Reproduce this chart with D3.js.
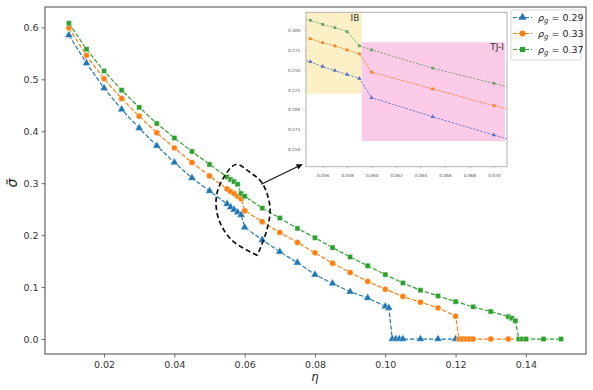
<!DOCTYPE html>
<html>
<head>
<meta charset="utf-8">
<script src="https://cdn.jsdelivr.net/npm/d3@7"></script>
<style>
  body { margin: 0; background: #fff; }
  text { font-family: "DejaVu Sans", sans-serif; }
</style>
</head>
<body>
<svg id="chart" width="593" height="390"></svg>
<script>
// data
const eta029 = [0.01, 0.015, 0.02, 0.025, 0.03, 0.035, 0.04, 0.045, 0.05,
    0.055, 0.056, 0.057, 0.058, 0.059, 0.06, 0.065, 0.07, 0.075, 0.08, 0.085, 0.09, 0.095, 0.1,
    0.101, 0.102, 0.103, 0.104, 0.105, 0.11, 0.115, 0.12];
const sig029 = [0.585, 0.531, 0.483, 0.442, 0.406, 0.372, 0.340, 0.310, 0.285,
    0.260, 0.254, 0.249, 0.244, 0.239, 0.215, 0.191, 0.168, 0.147, 0.124, 0.107, 0.091, 0.079, 0.063,
    0.060, 0, 0, 0, 0, 0, 0, 0];

const eta033 = [0.01, 0.015, 0.02, 0.025, 0.03, 0.035, 0.04, 0.045, 0.05,
    0.055, 0.056, 0.057, 0.058, 0.059, 0.06, 0.065, 0.07, 0.075, 0.08, 0.085, 0.09, 0.095, 0.1,
    0.105, 0.11, 0.115, 0.12, 0.121, 0.122, 0.123, 0.124, 0.125, 0.13, 0.135, 0.14];
const sig033 = [0.599, 0.546, 0.501, 0.463, 0.429, 0.397, 0.368, 0.340, 0.314,
    0.289, 0.284, 0.280, 0.275, 0.270, 0.247, 0.226, 0.205, 0.186, 0.166, 0.146, 0.128, 0.111, 0.096,
    0.082, 0.071, 0.060, 0.044, 0, 0, 0, 0, 0, 0, 0, 0];

const eta037 = [0.01, 0.015, 0.02, 0.025, 0.03, 0.035, 0.04, 0.045, 0.05,
    0.055, 0.056, 0.057, 0.058, 0.059, 0.06, 0.065, 0.07, 0.075, 0.08, 0.085, 0.09, 0.095, 0.1,
    0.105, 0.11, 0.115, 0.12, 0.125, 0.13, 0.135, 0.136, 0.137, 0.138, 0.139, 0.14, 0.145, 0.15];
const sig037 = [0.608, 0.558, 0.516, 0.479, 0.446, 0.415, 0.387, 0.361, 0.336,
    0.312, 0.307, 0.303, 0.298, 0.280, 0.275, 0.252, 0.233, 0.213, 0.195, 0.176, 0.158, 0.141, 0.124,
    0.108, 0.094, 0.083, 0.072, 0.062, 0.053, 0.043, 0.040, 0.035, 0, 0, 0, 0, 0];

const rhoValues = ['0.29', '0.33', '0.37'];
const colors = ['#1f77b4', '#ff7f0e', '#2ca02c'];
const insetColors = ['#5a6fc4', '#ff7f2a', '#6a9e6a'];
const symbols = [d3.symbolTriangle, d3.symbolCircle, d3.symbolSquare];

const xTicks = [0.02, 0.04, 0.06, 0.08, 0.10, 0.12, 0.14];
const yTicks = [0.0, 0.1, 0.2, 0.3, 0.4, 0.5, 0.6];
const insetXTicks = [0.056, 0.058, 0.060, 0.062, 0.064, 0.066, 0.068, 0.070];
const insetYTicks = [0.150, 0.175, 0.200, 0.225, 0.250, 0.275, 0.300];

// shaded regimes in the inset: [eta0, eta1, sig0, sig1]
const regionIB = [0.0540, 0.0592, 0.220, 0.330];
const regionTJ = [0.0592, 0.0709, 0.1605, 0.2845];

// dashed outline around the transition points (eta, sigma)
const loopPts = [[0.0636, 0.161], [0.0564, 0.190], [0.0527, 0.229], [0.0519, 0.271],
    [0.0536, 0.306], [0.0575, 0.336], [0.0615, 0.321], [0.0650, 0.300],
    [0.0672, 0.254], [0.0663, 0.210], [0.0636, 0.161]];
const arrowFrom = [0.0647, 0.298];
const arrowTo = [0.0763, 0.336];

const series = [
    { eta: eta029, sig: sig029 },
    { eta: eta033, sig: sig033 },
    { eta: eta037, sig: sig037 }
];

const svg = d3.select('#chart');

const x = d3.scaleLinear().domain([0.0032, 0.1571]).range([45, 586]);
const y = d3.scaleLinear().domain([-0.0288, 0.6392]).range([354, 7]);

// main axes
const xAxis = d3.axisBottom(x).tickValues(xTicks).tickFormat(d3.format('.2f')).tickSize(3.5).tickSizeOuter(0);
const yAxis = d3.axisLeft(y).tickValues(yTicks).tickFormat(d3.format('.1f')).tickSize(3.5).tickSizeOuter(0);

const gx = svg.append('g').attr('transform', 'translate(0,354)').call(xAxis);
const gy = svg.append('g').attr('transform', 'translate(45,0)').call(yAxis);
[gx, gy].forEach(g => {
    g.select('.domain').remove();
    g.selectAll('.tick line').attr('stroke', '#444').attr('stroke-width', 0.8);
    g.selectAll('.tick text').attr('fill', '#333').attr('font-size', 9.5).attr('font-family', 'DejaVu Sans');
});
gx.selectAll('.tick text').attr('dy', '0.8em');

svg.append('rect')
    .attr('x', 45).attr('y', 7).attr('width', 541).attr('height', 347)
    .attr('fill', 'none').attr('stroke', '#666').attr('stroke-width', 1.2);

const line = d3.line().x(d => x(d[0])).y(d => y(d[1]));

series.forEach((s, i) => {
    const pts = s.eta.map((e, j) => [e, s.sig[j]]);
    const g = svg.append('g');
    g.append('path')
        .attr('d', line(pts))
        .attr('fill', 'none')
        .attr('stroke', colors[i])
        .attr('stroke-width', 1.2)
        .attr('stroke-dasharray', '4.4,1.9');
    g.selectAll('path.m')
        .data(pts)
        .enter().append('path')
        .attr('class', 'm')
        .attr('transform', d => 'translate(' + x(d[0]) + ',' + y(d[1]) + ')')
        .attr('d', d3.symbol().type(symbols[i]).size(i === 2 ? 26 : 28))
        .attr('fill', colors[i])
        .attr('stroke', '#fff')
        .attr('stroke-width', 0.4);
});

// dashed loop
const loopLine = d3.line().curve(d3.curveCatmullRom.alpha(0.5)).x(d => x(d[0])).y(d => y(d[1]));
svg.append('path')
    .attr('d', loopLine(loopPts))
    .attr('fill', 'none')
    .attr('stroke', '#111')
    .attr('stroke-width', 1.7)
    .attr('stroke-dasharray', '5,3');

// axis labels
svg.append('text')
    .attr('x', 315).attr('y', 381)
    .attr('text-anchor', 'middle')
    .attr('font-size', 11.5).attr('font-style', 'italic')
    .attr('fill', '#222')
    .text('η');

svg.append('text')
    .attr('transform', 'translate(17,183) rotate(-90)')
    .attr('text-anchor', 'middle')
    .attr('font-size', 14).attr('font-style', 'italic')
    .attr('fill', '#222')
    .text('σ\u0303');

// inset
const xi = d3.scaleLinear().domain([0.05464, 0.07107]).range([306, 507]);
const yi = d3.scaleLinear().domain([0.1283, 0.3222]).range([166.7, 12.3]);

svg.append('rect')
    .attr('x', 286).attr('y', 9).attr('width', 224).attr('height', 175)
    .attr('fill', '#fff');

svg.append('clipPath').attr('id', 'insetClip')
    .append('rect').attr('x', 306).attr('y', 12.3).attr('width', 201).attr('height', 154.4);

const inset = svg.append('g');
const insetBody = inset.append('g').attr('clip-path', 'url(#insetClip)');

insetBody.append('rect')
    .attr('x', xi(regionIB[0])).attr('y', yi(regionIB[3]))
    .attr('width', xi(regionIB[1]) - xi(regionIB[0]))
    .attr('height', yi(regionIB[2]) - yi(regionIB[3]))
    .attr('fill', '#fcf0c6');
insetBody.append('rect')
    .attr('x', xi(regionTJ[0])).attr('y', yi(regionTJ[3]))
    .attr('width', xi(regionTJ[1]) - xi(regionTJ[0]))
    .attr('height', yi(regionTJ[2]) - yi(regionTJ[3]))
    .attr('fill', '#fccbe8');

const insetLine = d3.line().x(d => xi(d[0])).y(d => yi(d[1]));
series.forEach((s, i) => {
    const pts = s.eta.map((e, j) => [e, s.sig[j]]);
    insetBody.append('path')
        .attr('d', insetLine(pts))
        .attr('fill', 'none')
        .attr('stroke', insetColors[i])
        .attr('stroke-width', 0.8)
        .attr('stroke-dasharray', '2.5,1.2');
    insetBody.selectAll('path.im' + i)
        .data(pts)
        .enter().append('path')
        .attr('class', 'im' + i)
        .attr('transform', d => 'translate(' + xi(d[0]) + ',' + yi(d[1]) + ')')
        .attr('d', d3.symbol().type(symbols[i]).size(8))
        .attr('fill', insetColors[i]);
});

inset.append('text')
    .attr('x', 355).attr('y', 21)
    .attr('text-anchor', 'middle')
    .attr('font-size', 9).attr('fill', '#333')
    .text('IB');
inset.append('text')
    .attr('x', 504).attr('y', 50)
    .attr('text-anchor', 'end')
    .attr('font-size', 9).attr('fill', '#333')
    .text('TJ-I');

const ixAxis = d3.axisBottom(xi).tickValues(insetXTicks).tickFormat(d3.format('.3f')).tickSize(1.5).tickSizeOuter(0);
const iyAxis = d3.axisLeft(yi).tickValues(insetYTicks).tickFormat(d3.format('.3f')).tickSize(1.5).tickSizeOuter(0);
const gix = inset.append('g').attr('transform', 'translate(0,166.7)').call(ixAxis);
const giy = inset.append('g').attr('transform', 'translate(306,0)').call(iyAxis);
[gix, giy].forEach(g => {
    g.select('.domain').remove();
    g.selectAll('.tick line').attr('stroke', '#888').attr('stroke-width', 0.5);
    g.selectAll('.tick text').attr('fill', '#555').attr('font-size', 4.3).attr('font-family', 'DejaVu Sans');
});
gix.selectAll('.tick text').attr('dy', '1.3em');
giy.selectAll('.tick text').attr('dx', '-0.3em');

inset.append('rect')
    .attr('x', 306).attr('y', 12.3).attr('width', 201).attr('height', 154.4)
    .attr('fill', 'none').attr('stroke', '#aaa').attr('stroke-width', 0.9);

// arrow pointing from the loop to the inset
svg.append('defs').append('marker')
    .attr('id', 'arrowhead')
    .attr('viewBox', '0 0 10 10')
    .attr('refX', 9).attr('refY', 5)
    .attr('markerWidth', 5).attr('markerHeight', 5)
    .attr('orient', 'auto')
    .append('path').attr('d', 'M0,0 L10,5 L0,10 z').attr('fill', '#111');

svg.append('line')
    .attr('x1', x(arrowFrom[0])).attr('y1', y(arrowFrom[1]))
    .attr('x2', x(arrowTo[0])).attr('y2', y(arrowTo[1]))
    .attr('stroke', '#111').attr('stroke-width', 1.2)
    .attr('marker-end', 'url(#arrowhead)');

// legend
const legend = svg.append('g').attr('transform', 'translate(511,10)');
legend.append('rect')
    .attr('x', 0).attr('y', 0).attr('width', 70).attr('height', 50)
    .attr('rx', 2)
    .attr('fill', '#fff').attr('stroke', '#ccc').attr('stroke-width', 0.8);

rhoValues.forEach((val, i) => {
    const row = legend.append('g').attr('transform', 'translate(0,' + (7.5 + i * 16) + ')');
    row.append('line')
        .attr('x1', 2).attr('x2', 21)
        .attr('stroke', colors[i]).attr('stroke-width', 1.2)
        .attr('stroke-dasharray', '4,2');
    row.append('path')
        .attr('transform', 'translate(11.5,0)')
        .attr('d', d3.symbol().type(symbols[i]).size(28))
        .attr('fill', colors[i]);
    const t = row.append('text')
        .attr('x', 27).attr('y', 3.5)
        .attr('font-size', 9.5).attr('fill', '#222');
    t.append('tspan').attr('font-style', 'italic').text('ρ');
    t.append('tspan').attr('font-style', 'italic').attr('font-size', 7).attr('dy', 2).text('g');
    t.append('tspan').attr('dy', -2).text(' = ' + val);
});
</script>
</body>
</html>
